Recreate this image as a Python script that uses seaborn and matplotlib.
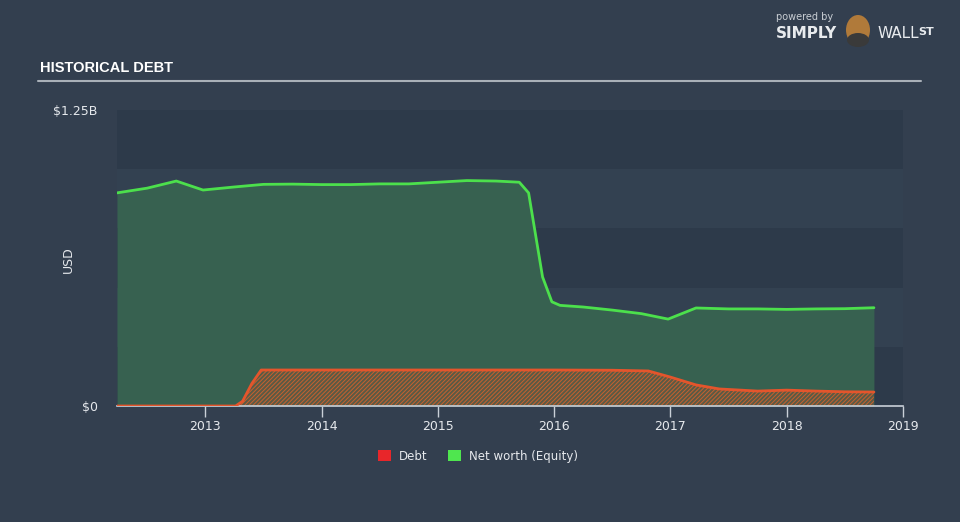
import numpy as np
import pandas as pd
import matplotlib
matplotlib.use("Agg")
import matplotlib.pyplot as plt
import seaborn as sns
from matplotlib.patches import Patch, Ellipse

# ---- data (fractional years, values in USD billions) ----
nw_years = [2012.24, 2012.5, 2012.75, 2012.98, 2013.25, 2013.5, 2013.75, 2014.0,
            2014.25, 2014.5, 2014.75, 2015.0, 2015.25, 2015.5, 2015.7, 2015.78,
            2015.9, 2015.98, 2016.05, 2016.25, 2016.5, 2016.75, 2016.98, 2017.22,
            2017.5, 2017.75, 2018.0, 2018.25, 2018.5, 2018.75]
nw_values = [0.900, 0.920, 0.950, 0.912, 0.925, 0.936, 0.937, 0.935,
             0.935, 0.938, 0.938, 0.945, 0.952, 0.950, 0.945, 0.900,
             0.545, 0.440, 0.425, 0.418, 0.405, 0.390, 0.367, 0.414,
             0.410, 0.410, 0.408, 0.410, 0.411, 0.415]

debt_years = [2012.24, 2012.5, 2012.75, 2013.0, 2013.26, 2013.32, 2013.4, 2013.48,
              2013.75, 2014.0, 2014.5, 2015.0, 2015.5, 2016.0, 2016.5, 2016.81,
              2017.0, 2017.22, 2017.42, 2017.75, 2018.0, 2018.25, 2018.5, 2018.75]
debt_values = [0.0, 0.0, 0.0, 0.0, 0.0, 0.02, 0.095, 0.152,
               0.152, 0.152, 0.152, 0.152, 0.152, 0.152, 0.151, 0.148,
               0.122, 0.089, 0.072, 0.063, 0.067, 0.063, 0.060, 0.059]

year_ticks = [2013, 2014, 2015, 2016, 2017, 2018, 2019]
y_tick_vals = [0, 1.25]
y_tick_labels = ["$0", "$1.25B"]

FIG_BG = "#333F4F"
BAND_DARK = "#2D3A4A"
BAND_LIGHT = "#334151"
GREEN = "#4CE04C"
GREEN_FILL = "#376150"
DEBT_LINE = "#E4552C"
RED = "#E8262A"
TEXT = "#E6E9ED"

sns.set_theme(style="dark")
plt.rcParams['font.family'] = ['DejaVu Sans']

fig = plt.figure(figsize=(9.6, 5.22), dpi=100, facecolor=FIG_BG)
ax = fig.add_axes([117/960, (522-406)/522, (903-117)/960, 296/522])
ax.set_facecolor(BAND_DARK)

ax.set_xlim(2012.24, 2019.0)
ax.set_ylim(0, 1.25)

# horizontal bands
for i in range(5):
    c = BAND_DARK if i % 2 == 0 else BAND_LIGHT
    ax.axhspan(i * 0.25, (i + 1) * 0.25, color=c, lw=0, zorder=0)

nw = pd.DataFrame({"year": nw_years, "value": nw_values})
debt = pd.DataFrame({"year": debt_years, "value": debt_values})

ax.fill_between(nw["year"], 0, nw["value"], color=GREEN_FILL, lw=0, zorder=1)
plt.rcParams['hatch.color'] = "#C8602E"
plt.rcParams['hatch.linewidth'] = 0.7
ax.fill_between(debt["year"], 0, debt["value"], facecolor="#5A5A45", edgecolor="#C8602E",
                hatch="////////", lw=0, zorder=2)

sns.lineplot(data=nw, x="year", y="value", ax=ax, color=GREEN, lw=2, zorder=3)
sns.lineplot(data=debt, x="year", y="value", ax=ax, color=DEBT_LINE, lw=2, zorder=3)

for s in ["top", "right", "left"]:
    ax.spines[s].set_visible(False)
ax.spines["bottom"].set_color("#C9D0D8")
ax.spines["bottom"].set_linewidth(1.2)

ax.set_xticks(year_ticks)
ax.set_xticklabels([str(y) for y in year_ticks], color=TEXT, fontsize=9)
ax.tick_params(axis="x", length=8, width=1, color="#C9D0D8", pad=2, bottom=True)
ax.set_yticks(y_tick_vals)
ax.set_yticklabels(y_tick_labels, color=TEXT, fontsize=9)
ax.tick_params(axis="y", length=0, pad=14)
ax.set_xlabel("")
ax.set_ylabel("")
ax.grid(False)
fig.text(68/960, 1 - 260/522, "USD", color=TEXT, fontsize=9, rotation=90,
         va="center", ha="center")

# title and rule
fig.text(40/960, 1 - 68/522, "HISTORICAL DEBT", color="white", fontsize=10.5,
         fontweight="bold", va="center", ha="left",
         family=['Liberation Sans', 'DejaVu Sans'])
fig.add_artist(plt.Line2D([38/960, 921/960], [1 - 81/522, 1 - 81/522],
                          color="#A9B0B8", lw=1.5))

# logo
fig.text(776/960, 1 - 17/522, "powered by", color="#C9CED4", fontsize=7, va="center", ha="left")
fig.text(776/960, 1 - 33/522, "SIMPLY", color="#E8EBEE", fontsize=11, fontweight="bold",
         va="center", ha="left")
fig.add_artist(Ellipse((858/960, 1 - 30/522), 24/960, 30/522, transform=fig.transFigure,
                       facecolor="#B07A3A", edgecolor="none"))
fig.add_artist(Ellipse((858/960, 1 - 40/522), 22/960, 14/522, transform=fig.transFigure,
                       facecolor="#3A3A3A", edgecolor="none"))
fig.text(878/960, 1 - 33/522, "WALL", color="#E8EBEE", fontsize=11, va="center", ha="left")
fig.text(918/960, 1 - 32/522, "ST", color="#E8EBEE", fontsize=8, fontweight="bold",
         va="center", ha="left")

# legend
handles = [Patch(facecolor=RED, edgecolor="none", label="Debt"),
           Patch(facecolor="#4FE64F", edgecolor="none", label="Net worth (Equity)")]
leg = fig.legend(handles=handles, loc="center", bbox_to_anchor=(478/960, 1 - 456/522),
                 ncol=2, frameon=False, fontsize=8.5, handlelength=1.1, handleheight=1.1,
                 columnspacing=1.8, handletextpad=0.6)
for t in leg.get_texts():
    t.set_color(TEXT)

fig.savefig("out.png", dpi=100, facecolor=FIG_BG)
